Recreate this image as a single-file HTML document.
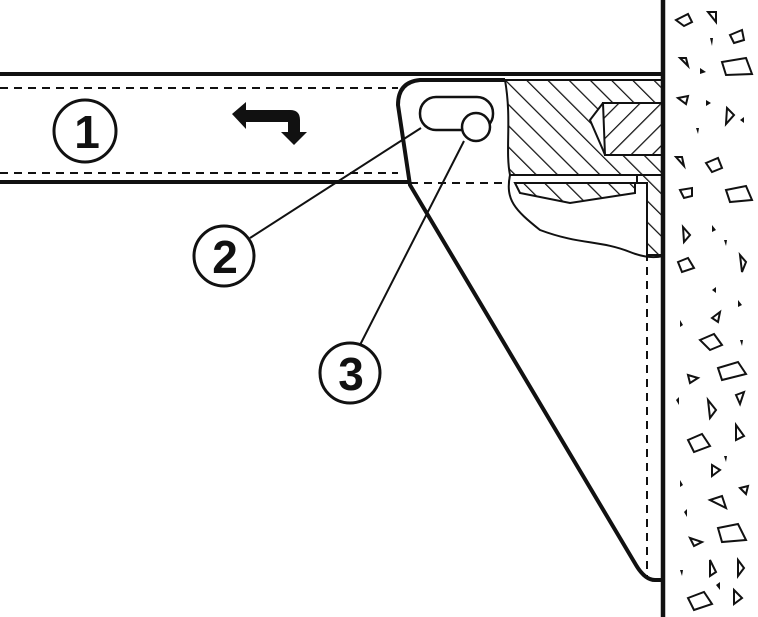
<!DOCTYPE html>
<html><head><style>body{margin:0;background:#fff}svg{display:block}</style></head><body>
<svg width="758" height="617" viewBox="0 0 758 617" xmlns="http://www.w3.org/2000/svg">
<defs>
<pattern id="h1" patternUnits="userSpaceOnUse" width="15" height="15" patternTransform="rotate(-45)">
<line x1="0" y1="0" x2="0" y2="15" stroke="#111" stroke-width="2.5"/></pattern>
<pattern id="h2" patternUnits="userSpaceOnUse" width="15" height="15" patternTransform="rotate(45)">
<line x1="0" y1="0" x2="0" y2="15" stroke="#111" stroke-width="2.5"/></pattern>
</defs>
<g fill="none" stroke="#111">
<line x1="0" y1="74" x2="663" y2="74" stroke-width="4"/>
<line x1="0" y1="182" x2="410" y2="182" stroke-width="4"/>
<line x1="0" y1="88" x2="398" y2="88" stroke-width="2" stroke-dasharray="8,6"/>
<line x1="0" y1="173" x2="398" y2="173" stroke-width="2" stroke-dasharray="8,6"/>
<line x1="410" y1="183" x2="505" y2="183" stroke-width="2" stroke-dasharray="8,6"/>
<path d="M505,80 L663,80 L663,175 L510,175 C505,150 512,120 505,80 Z" fill="url(#h1)" stroke-width="2"/>
<path d="M603,103 L663,103 L663,155 L605,155 L603,150 L590,120 Z" fill="#fff" stroke-width="2"/>
<path d="M603,103 L663,103 L663,155 L605,155 Z" fill="url(#h2)" stroke-width="2"/>
<path d="M515,183 L635,183 L635,193 L570,203 L520,193 Z" fill="url(#h1)" stroke-width="2"/>
<path d="M637,175 L663,175 L663,255 L647,255 L647,183 L637,183 Z" fill="url(#h1)" stroke-width="2"/>
<path d="M510,175 C505,200 515,210 540,230 C580,245 600,240 630,252 C645,258 655,258 663,256" stroke-width="2"/>
<line x1="647" y1="183" x2="647" y2="578" stroke-width="2" stroke-dasharray="8,6"/>
<path d="M505,80 L420,80 Q398,82 398,105 L410,185 L636,565 Q645,580 655,580 L663,580" stroke-width="4"/>
<rect x="420" y="97" width="73" height="33" rx="16" stroke-width="2.5" fill="#fff"/>
<circle cx="476" cy="127" r="14" stroke-width="2.5" fill="#fff"/>
<line x1="421" y1="128" x2="250" y2="238" stroke-width="2"/>
<line x1="464" y1="141" x2="360" y2="345" stroke-width="2"/>
<circle cx="85" cy="131" r="31" stroke-width="3"/>
<circle cx="224" cy="256" r="30" stroke-width="3"/>
<circle cx="350" cy="373" r="30" stroke-width="3"/>
<line x1="663" y1="0" x2="663" y2="617" stroke-width="4.5"/>
</g>
<g font-family="Liberation Sans, sans-serif" font-weight="bold" font-size="46" text-anchor="middle" fill="#111">
<text x="87" y="148">1</text><text x="225" y="273">2</text><text x="351" y="390">3</text>
</g>
<path d="M232,114 L246,102 L246,110 L290,110 Q300,110 300,120 L300,132 L307,132 L294,145 L281,132 L288,132 L288,122 L246,122 L246,129 Z" fill="#111"/>
<g fill="none" stroke="#111" stroke-width="2">
<path d="M676,20 L688,14 L692,22 L684,26 Z"/><path d="M708,12 L716,12 L716,22 Z"/>
<path d="M730,35 L742,30 L744,40 L734,43 Z"/><path d="M722,62 L746,58 L752,74 L726,75 Z"/>
<path d="M680,58 L686,58 L688,66 Z"/><path d="M678,98 L688,96 L686,104 Z"/>
<path d="M727,108 L734,115 L726,124 Z"/><path d="M676,157 L682,157 L684,166 Z"/>
<path d="M706,163 L718,158 L722,168 L712,172 Z"/><path d="M726,190 L746,186 L752,200 L730,202 Z"/>
<path d="M680,190 L692,188 L692,196 L684,198 Z"/><path d="M683,227 L690,235 L684,242 Z"/>
<path d="M740,255 L746,262 L742,272 Z"/><path d="M678,262 L688,258 L694,268 L682,272 Z"/>
<path d="M712,318 L720,312 L718,322 Z"/><path d="M700,340 L714,334 L722,345 L710,350 Z"/>
<path d="M718,368 L738,362 L746,374 L722,380 Z"/><path d="M688,375 L698,378 L690,383 Z"/>
<path d="M708,400 L716,410 L710,418 Z"/><path d="M736,395 L744,392 L740,404 Z"/>
<path d="M736,425 L744,436 L736,440 Z"/><path d="M688,440 L702,434 L710,446 L694,452 Z"/>
<path d="M712,465 L720,470 L712,476 Z"/><path d="M740,488 L748,486 L746,494 Z"/>
<path d="M710,500 L722,496 L726,508 Z"/><path d="M718,528 L738,524 L746,540 L722,542 Z"/>
<path d="M690,538 L702,542 L694,546 Z"/><path d="M710,560 L716,572 L710,576 Z"/>
<path d="M738,560 L744,568 L738,576 Z"/><path d="M688,598 L704,592 L712,604 L694,610 Z"/>
<path d="M734,590 L742,598 L734,604 Z"/>
</g>
<g fill="#111">
<path d="M710,38 l3,0 l-1,8 z"/><path d="M700,68 l6,4 l-6,2 z"/><path d="M706,100 l5,3 l-5,3 z"/>
<path d="M696,128 l3,0 l-1,6 z"/><path d="M740,120 l4,-3 l0,6 z"/><path d="M712,225 l4,5 l-4,2 z"/>
<path d="M724,240 l3,0 l-1,6 z"/><path d="M712,290 l4,-3 l0,6 z"/><path d="M738,300 l4,5 l-4,2 z"/>
<path d="M680,320 l3,5 l-3,2 z"/><path d="M740,340 l3,0 l-1,6 z"/><path d="M676,400 l3,-3 l0,8 z"/>
<path d="M724,456 l3,0 l-1,6 z"/><path d="M680,480 l3,5 l-3,2 z"/><path d="M684,512 l3,-3 l0,8 z"/>
<path d="M716,585 l4,-3 l0,8 z"/><path d="M680,570 l3,0 l-1,6 z"/>
</g>
</svg>
</body></html>
